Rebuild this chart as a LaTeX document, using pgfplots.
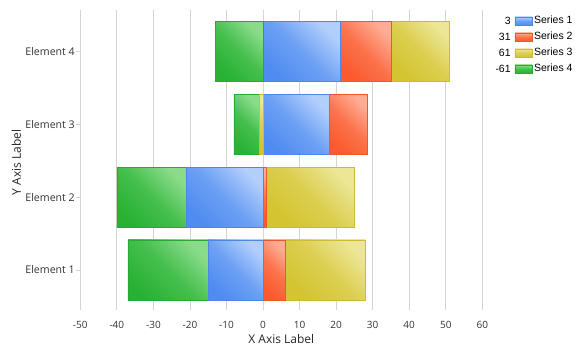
\documentclass[border=0pt]{standalone}
\usepackage{pgfplots}
\pgfplotsset{compat=1.18}
\usepackage{fontspec}
\setmainfont{Open Sans}
\newfontfamily\legfont{Liberation Sans}
\definecolor{s1c}{RGB}{79,140,240}
\definecolor{s1l}{RGB}{178,207,252}
\definecolor{s2c}{RGB}{250,90,45}
\definecolor{s2l}{RGB}{255,172,148}
\definecolor{s3c}{RGB}{212,196,48}
\definecolor{s3l}{RGB}{236,230,150}
\definecolor{s4c}{RGB}{40,178,52}
\definecolor{s4l}{RGB}{138,220,138}
\definecolor{gridc}{RGB}{212,212,212}
\definecolor{zeroc}{RGB}{255,200,200}
\tikzset{
  bs/.style 2 args={draw=#1!96!black, line width=0.4pt, bottom color=#1, top color=#2, middle color=#1!70!#2, shading angle=-45},
}
\pgfplotsset{
  common/.style={
    at={(80.3bp,43bp)}, anchor=south west,
    scale only axis, width=402bp, height=300bp,
    xmin=-50, xmax=60, ymin=0.45, ymax=4.57,
    xbar stacked, bar width=0.825, bar shift=0pt,
  },
  seg/.style={common, hide axis},
}
\begin{document}
\begin{tikzpicture}
\path[use as bounding box] (0,0) rectangle (585bp,353bp);
\begin{axis}[common,
  axis line style={draw=none},
  xtick={-50,-40,-30,-20,-10,0,10,20,30,40,50,60},
  xticklabels={-50,-40,-30,-20,-10,0,10,20,30,40,50,60},
  ytick={1,2,3,4},
  yticklabels={Element 1,Element 2,Element 3,Element 4},
  ytick pos=left,
  tick align=outside, major tick length=4bp,
  xtick style={draw=none},
  ytick style={draw=gridc, line width=0.6pt},
  xmajorgrids, grid style={draw=gridc, line width=0.8pt},
  extra x ticks={0}, extra x tick labels={},
  extra x tick style={grid style={draw=zeroc, line width=0.9pt}},
  ticklabel style={font=\fontsize{10bp}{12bp}\selectfont, text=black!80},
  xticklabel style={yshift=-4bp},
  yticklabel style={font=\fontsize{10.6bp}{12bp}\selectfont, xshift=2bp},
  xlabel={X Axis Label}, ylabel={Y Axis Label},
  label style={font=\fontsize{12bp}{14bp}\selectfont, text=black!85},
  xlabel style={at={(axis description cs:0.5,0)}, anchor=base, yshift=-33.3bp},
  ylabel style={at={(axis description cs:0,0.492)}, anchor=base, xshift=0bp, yshift=59.3bp},
  legend style={draw=none, fill=none, inner sep=0pt, at={(1,1)}, anchor=north west, xshift=13bp, yshift=-2.8bp,
    font=\legfont\fontsize{10.5bp}{12bp}\selectfont,
    nodes={text height=7.5bp, text depth=2bp, inner ysep=3.25bp, inner xsep=2bp},
    legend cell align=left},
]
\addlegendimage{legend image code/.code={\node[anchor=base east, inner sep=0pt] at (-4bp,-3.7bp) {3}; \path[bs={s1c}{s1l}, shading angle=0] (0,-4bp) rectangle (17bp,4bp);}}
\addlegendentry{Series 1}
\addlegendimage{legend image code/.code={\node[anchor=base east, inner sep=0pt] at (-4bp,-3.7bp) {31}; \path[bs={s2c}{s2l}, shading angle=0] (0,-4bp) rectangle (17bp,4bp);}}
\addlegendentry{Series 2}
\addlegendimage{legend image code/.code={\node[anchor=base east, inner sep=0pt] at (-4bp,-3.7bp) {61}; \path[bs={s3c}{s3l}, shading angle=0] (0,-4bp) rectangle (17bp,4bp);}}
\addlegendentry{Series 3}
\addlegendimage{legend image code/.code={\node[anchor=base east, inner sep=0pt] at (-4bp,-3.7bp) {-61}; \path[bs={s4c}{s4l}, shading angle=0] (0,-4bp) rectangle (17bp,4bp);}}
\addlegendentry{Series 4}
\end{axis}
% Element 1 (S1=-15, S2=6, S3=22, S4=-22)
\begin{axis}[seg]
\addplot[bs={s2c}{s2l}] coordinates {(6,1)};
\addplot[bs={s3c}{s3l}] coordinates {(22,1)};
\end{axis}
\begin{axis}[seg]
\addplot[bs={s1c}{s1l}] coordinates {(-15,1)};
\addplot[bs={s4c}{s4l}] coordinates {(-22,1)};
\end{axis}
% Element 2 (S1=-21, S2=1, S3=24, S4=-19)
\begin{axis}[seg]
\addplot[bs={s2c}{s2l}] coordinates {(1,2)};
\addplot[bs={s3c}{s3l}] coordinates {(24,2)};
\end{axis}
\begin{axis}[seg]
\addplot[bs={s1c}{s1l}] coordinates {(-21,2)};
\addplot[bs={s4c}{s4l}] coordinates {(-19,2)};
\end{axis}
% Element 3 (S1=18, S2=10.4, S3=-1, S4=-7)
\begin{axis}[seg]
\addplot[bs={s1c}{s1l}] coordinates {(18,3)};
\addplot[bs={s2c}{s2l}] coordinates {(10.4,3)};
\end{axis}
\begin{axis}[seg]
\addplot[bs={s3c}{s3l}] coordinates {(-1,3)};
\addplot[bs={s4c}{s4l}] coordinates {(-7,3)};
\end{axis}
% Element 4 (S1=21, S2=14, S3=16, S4=-13)
\begin{axis}[seg]
\addplot[bs={s1c}{s1l}] coordinates {(21,4)};
\addplot[bs={s2c}{s2l}] coordinates {(14,4)};
\addplot[bs={s3c}{s3l}] coordinates {(16,4)};
\end{axis}
\begin{axis}[seg]
\addplot[bs={s4c}{s4l}] coordinates {(-13,4)};
\end{axis}
\end{tikzpicture}
\end{document}
